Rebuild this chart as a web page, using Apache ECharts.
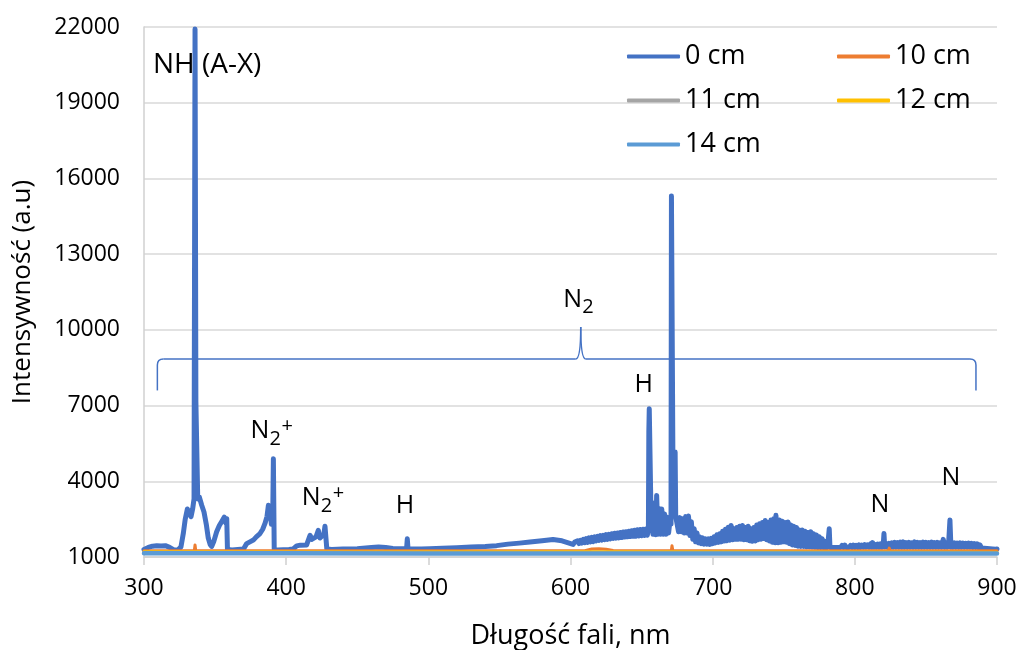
<!DOCTYPE html>
<html>
<head>
<meta charset="utf-8">
<title>Widmo emisyjne</title>
<script src="https://cdn.jsdelivr.net/npm/echarts@6.0.0/dist/echarts.min.js"></script>
<style>
  html, body { margin: 0; padding: 0; background: #fff; }
  #main { width: 1019px; height: 650px; }
</style>
</head>
<body>
<div id="main"></div>
<script>
// [dlugosc fali nm, intensywnosc a.u.]
var spectrum0cm = [
  [300,1300],[303,1380],[306,1430],[309,1450],[312,1440],[315,1450],[318,1380],[321,1280],[324,1290],[326,1400],
  [327.7,1950],[329,2500],[330.5,2900],[332,2700],[333.1,2600],[334.2,2900],[335.2,3300],[335.9,21920],[336.5,7140],[337.3,7140],
  [337.8,3300],[338.9,3380],[340.6,3050],[342.2,2780],[343.8,2300],[345.2,1750],[346.5,1500],[347.6,1420],[349,1600],[351.1,2000],
  [353,2250],[354.6,2400],[356.5,2580],[357.5,2350],[358.2,2520],[358.7,1300],[362,1280],[366,1300],[370,1320],[372.2,1530],
  [374.5,1600],[376.9,1670],[379,1800],[381.6,1930],[383.5,2100],[385.1,2330],[386.5,2600],[387.5,3050],[388.6,2900],[389.6,2300],
  [390.5,2400],[391,4890],[391.6,1300],[394,1280],[398,1290],[402,1300],[405,1320],[407.4,1440],[410,1470],[414.4,1480],
  [416.8,1860],[418,1700],[419.1,1730],[421,1800],[422.6,2060],[423.8,1750],[425,1730],[426.5,1900],[427.3,2220],[428.3,2200],
  [428.6,1320],[432,1300],[440,1320],[450,1330],[460,1380],[465,1400],[470,1380],[475,1340],[480,1330],[484.7,1330],
  [485.2,1720],[485.7,1330],[490,1320],[495,1320],[501,1330],[510,1350],[520,1370],[530,1400],[540,1420],[548,1450],
  [556,1510],[564,1550],[571.5,1590],[580,1640],[587.7,1690],[594,1640],[601.8,1500],
  [603,1590],[604,1520],[605,1640],[606,1530],[607,1660],[608,1550],[609,1700],[610,1570],[611,1730],[612,1580],
  [613,1760],[614,1600],[615,1780],[616,1610],[617,1800],[618,1640],[619,1820],[620,1660],[621,1850],[622,1670],
  [623,1860],[624,1690],[625,1890],[626,1700],[627,1900],[628,1720],[629,1920],[630,1740],[631,1940],[632,1750],
  [633,1950],[634,1760],[635,1970],[636,1770],[637,1990],[638,1790],[639,2000],[640,1800],[641,2020],[642,1810],
  [643,2040],[644,1820],[645,2060],[646,1820],[647,2080],[648,1830],[649,2090],[650,1840],[651,2100],[652,1850],
  [653,2110],[654,1860],[654.8,2080],
  [655.1,5950],[655.4,6870],[656.1,6870],[656.5,3100],[657.1,3180],[658,1900],[659,3000],[660,1880],[660.6,3440],[661.5,1900],
  [662.4,2920],[663.3,1900],[664.2,2900],[665.2,1900],[666.2,2700],[667.1,1900],[668,2580],[669,1950],[670,2450],[670.7,2300],
  [671,15300],[671.6,15300],[672,5160],[673.6,5160],[674,2600],
  [675,2620],[676,2000],[677,2560],[678,2000],[679,2520],[680,1950],[681,2600],[682,1950],[683,2620],[684,1850],
  [685,2400],[686,1700],[687,2120],[688,1600],[689,1950],[690,1560],[691,1800],[692,1530],[693,1760],[694,1510],
  [695,1720],[696,1510],[697,1720],[698,1500],[699,1740],[700,1530],[701,1800],[702,1560],[703,1880],[704,1580],
  [705,1920],[706,1600],[707,2020],[708,1630],[709,2100],[710,1640],[711,2180],[712,1660],[713,2250],[714,1680],
  [715,2120],[716,1700],[717,2170],[718,1700],[719,2220],[720,1700],[721,2250],[722,1680],[723,2170],[724,1680],
  [725,2220],[726,1640],[727,2120],[728,1620],[729,2170],[730,1630],[731,2270],[732,1680],[733,2320],[734,1700],
  [735,2370],[736,1730],[737,2450],[738,1680],[739,2370],[740,1630],[741,2470],[742,1580],[743,2520],[744,1560],
  [744.5,2650],[746,1560],[747,2470],[748,1580],[749,2420],[750,1600],[751,2370],[752,1580],[753,2390],[754,1530],
  [755,2270],[756,1480],[757,2220],[758,1460],[759,2170],[760,1430],[761,2070],[762,1420],[763,2070],[764,1420],
  [765,2020],[766,1410],[767,1970],[768,1410],[769,2000],[770,1400],[771,1920],[772,1390],[773,1870],[774,1380],
  [775,1800],[776,1380],[777,1720],[778,1370],[779,1620],[780,1360],[781,1500],[781.6,1450],[782,2120],[782.5,1380],
  [783,1440],[784,1380],[785,1450],[786,1380],[787,1440],[788,1380],[789,1450],[790,1380],[791,1460],[792,1380],
  [793,1470],[794,1380],[795,1450],[796,1380],[797,1460],[798,1380],[799,1470],[800,1380],[801,1460],[802,1380],
  [803,1480],[804,1380],[805,1470],[806,1390],[807,1490],[808,1390],[809,1480],[810,1390],[811,1520],[812,1390],
  [812.5,1570],[813.5,1390],[814,1500],[815,1390],[816,1510],[817,1390],[818,1520],[819,1390],[820,1500],[820.5,1930],
  [821,1400],[822,1530],[823,1390],[824,1540],[825,1390],[826,1560],[827,1390],[828,1580],[829,1390],[830,1570],
  [831,1390],[832,1590],[833,1390],[834,1600],[835,1390],[836,1570],[837,1390],[838,1580],[839,1390],[840,1560],
  [841,1390],[842,1600],[843,1390],[844,1580],[845,1390],[846,1570],[847,1390],[848,1590],[849,1390],[850,1580],
  [851,1390],[852,1570],[853,1390],[854,1590],[855,1390],[856,1570],[857,1390],[858,1580],[859,1390],[860,1560],
  [861,1390],[862.2,1700],[863,1390],[864,1570],[865,1390],[866,1580],[866.9,2470],[867.6,1390],[868,1560],[869,1390],
  [870,1560],[871,1390],[872,1550],[873,1390],[874,1560],[875,1390],[876,1550],[877,1390],[878,1540],[879,1390],
  [880,1550],[881,1390],[882,1540],[883,1380],[884,1530],[885,1380],[886,1520],[887,1370],[888,1480],[889,1360],
  [890,1430],[891,1350],[892,1400],[893,1340],[894,1390],[895,1330],[896,1370],[897,1320],[898,1350],[899,1310],
  [900,1320]
];
var spectrum10cm = [
  [300,1250],[335.4,1250],[335.9,1480],[336.4,1250],[610,1250],[615,1320],[620,1330],[625,1310],[630,1260],
  [655,1250],[655.6,1300],[656.2,1250],[670.9,1250],[671.4,1450],[672,1250],[823.6,1250],[824.2,1350],[824.8,1250],[900,1250]
];
var spectrum11cm = [[300,1200],[450,1190],[600,1200],[750,1190],[900,1180]];
var spectrum12cm = [[300,1210],[450,1200],[600,1210],[750,1200],[900,1190]];
var spectrum14cm = [[300,1150],[400,1145],[500,1140],[600,1140],[700,1140],[800,1140],[900,1140]];

var seriesNames = ['0 cm', '10 cm', '11 cm', '12 cm', '14 cm'];
var seriesColors = ['#4472C4', '#ED7D31', '#A5A5A5', '#FFC000', '#5B9BD5'];
var seriesWidths = [5, 3, 3, 3, 4.5];
var seriesData = [spectrum0cm, spectrum10cm, spectrum11cm, spectrum12cm, spectrum14cm];

// podpisy linii: [tekst, nm, intensywnosc]
var peakLabels = [
  ['H', 483.6, 3030],
  ['H', 651.5, 7815],
  ['N', 817.7, 3060],
  ['N', 867.5, 4118]
];
var moleculeLabels = [
  ['N', '2', '+', 374.9, 5990],
  ['N', '2', '+', 410.9, 3326],
  ['N', '2', '', 594.9, 11194]
];
var braceNm = [309.4, 607.2, 885.2];
var braceLevels = [7600, 8845, 10113];

var FONT = 'Open Sans';
var chart = echarts.init(document.getElementById('main'));

var legendPos = [[627, 43], [837, 43], [627, 87], [837, 87], [627, 131]];

var option = {
  animation: false,
  backgroundColor: '#fff',
  textStyle: { fontFamily: FONT },
  grid: { left: 144, right: 22, top: 27, bottom: 93, outerBoundsMode: 'none', containLabel: false },
  legend: seriesNames.map(function (n, i) {
    return {
      data: [n],
      left: legendPos[i][0],
      top: legendPos[i][1],
      padding: 0,
      icon: 'roundRect',
      itemWidth: 53,
      itemHeight: 4,
      textStyle: { fontSize: 27, color: '#000', fontFamily: FONT }
    };
  }),
  xAxis: {
    type: 'value',
    min: 300,
    max: 900,
    interval: 100,
    name: 'Długość fali, nm',
    nameLocation: 'middle',
    nameGap: 66,
    nameTextStyle: { fontSize: 27, color: '#000', fontFamily: FONT },
    axisLine: { lineStyle: { color: '#d0d0d0', width: 1.5 } },
    axisTick: { show: true, length: 8, lineStyle: { color: '#d0d0d0', width: 1.5 } },
    axisLabel: { fontSize: 23, color: '#000', margin: 20, fontFamily: FONT },
    splitLine: { show: false }
  },
  yAxis: {
    type: 'value',
    min: 1000,
    max: 22000,
    interval: 3000,
    name: 'Intensywność (a.u)',
    nameLocation: 'middle',
    nameGap: 108,
    nameTextStyle: { fontSize: 26, color: '#000', fontFamily: FONT },
    axisLine: { show: true, lineStyle: { color: '#d0d0d0', width: 1.5 } },
    axisTick: { show: false },
    axisLabel: {
      fontSize: 23, color: '#000', margin: 24, fontFamily: FONT,
      formatter: function (v) { return String(v); }
    },
    splitLine: { lineStyle: { color: '#d9d9d9', width: 1.5 } }
  },
  series: seriesNames.map(function (n, i) {
    return {
      name: n,
      type: 'line',
      data: seriesData[i],
      symbol: 'none',
      itemStyle: { color: seriesColors[i] },
      lineStyle: { color: seriesColors[i], width: seriesWidths[i], join: 'round', cap: 'round' }
    };
  })
};
chart.setOption(option);

function px(x, y) {
  return chart.convertToPixel({ gridIndex: 0 }, [x, y]);
}

var g = [];
var p = px(306.3, 20493);
g.push({ type: 'text', z: 100, x: p[0], y: p[1],
  style: { text: 'NH (A-X)', fontSize: 28, fontFamily: FONT, fill: '#000', align: 'left', verticalAlign: 'middle' } });

peakLabels.forEach(function (l) {
  var q = px(l[1], l[2]);
  g.push({ type: 'text', z: 100, x: q[0], y: q[1],
    style: { text: l[0], fontSize: 25, fontFamily: FONT, fill: '#000', align: 'center', verticalAlign: 'middle' } });
});

moleculeLabels.forEach(function (l) {
  var q = px(l[3], l[4]);
  g.push({ type: 'text', z: 100, x: q[0], y: q[1],
    style: { text: l[0], fontSize: 25, fontFamily: FONT, fill: '#000', align: 'left', verticalAlign: 'middle' } });
  g.push({ type: 'text', z: 100, x: q[0] + 19, y: q[1] + 8,
    style: { text: l[1], fontSize: 20, fontFamily: FONT, fill: '#000', align: 'left', verticalAlign: 'middle' } });
  if (l[2]) {
    g.push({ type: 'text', z: 100, x: q[0] + 31, y: q[1] - 5,
      style: { text: l[2], fontSize: 20, fontFamily: FONT, fill: '#000', align: 'left', verticalAlign: 'middle' } });
  }
});

// klamra N2
var bl = px(braceNm[0], braceLevels[0]);
var bm = px(braceNm[1], braceLevels[1]);
var bt = px(braceNm[1], braceLevels[2]);
var br = px(braceNm[2], braceLevels[0]);
var yM = bm[1];
var braceStyle = { stroke: '#4472C4', lineWidth: 1.5, fill: null };
function seg(x1, y1, x2, y2) {
  g.push({ type: 'line', z: 100, shape: { x1: x1, y1: y1, x2: x2, y2: y2 }, style: braceStyle });
}
function curve(x1, y1, cx, cy, x2, y2) {
  g.push({ type: 'bezierCurve', z: 100,
    shape: { x1: x1, y1: y1, x2: x2, y2: y2, cpx1: cx, cpy1: cy }, style: braceStyle });
}
seg(bl[0], bl[1], bl[0], yM + 6);
curve(bl[0], yM + 6, bl[0], yM, bl[0] + 6, yM);
seg(bl[0] + 6, yM, bt[0] - 5, yM);
curve(bt[0] - 5, yM, bt[0], yM, bt[0], bt[1]);
curve(bt[0], bt[1], bt[0], yM, bt[0] + 5, yM);
seg(bt[0] + 5, yM, br[0] - 6, yM);
curve(br[0] - 6, yM, br[0], yM, br[0], yM + 6);
seg(br[0], yM + 6, br[0], br[1]);

chart.setOption({ graphic: g });
</script>
</body>
</html>
